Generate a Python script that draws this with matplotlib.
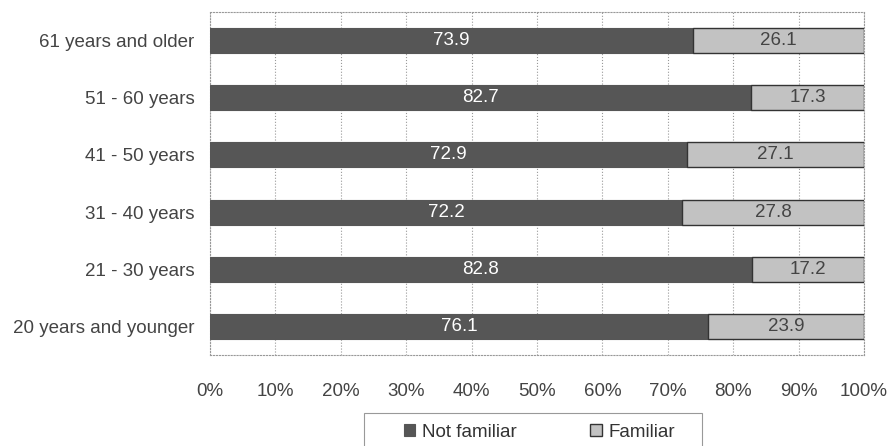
import matplotlib.pyplot as plt
from matplotlib.patches import Rectangle
import numpy as np

# Familiarity by age group (percent)
groups = ["20 years and younger", "21 - 30 years", "31 - 40 years",
          "41 - 50 years", "51 - 60 years", "61 years and older"]
not_familiar = [76.1, 82.8, 72.2, 72.9, 82.7, 73.9]
familiar = [23.9, 17.2, 27.8, 27.1, 17.3, 26.1]
ticks = [0, 10, 20, 30, 40, 50, 60, 70, 80, 90, 100]

plt.rcParams['font.family'] = ['Liberation Sans', 'DejaVu Sans']

W, H = 890, 446
fig = plt.figure(figsize=(W / 100, H / 100), dpi=100)
ax = fig.add_axes([210 / W, 1 - 355 / H, 654 / W, 343 / H])

y = np.arange(len(groups))
dark, light = '#565656', '#c2c2c2'
b1 = ax.barh(y, not_familiar, height=0.44, color=dark, edgecolor=dark, linewidth=0.8,
             label='Not familiar', zorder=3)
b2 = ax.barh(y, familiar, left=not_familiar, height=0.44, color=light,
             edgecolor='#333333', linewidth=1.0, label='Familiar', zorder=3)

for i in range(len(groups)):
    ax.text(not_familiar[i] / 2, y[i], f"{not_familiar[i]:.1f}", color='white',
            ha='center', va='center', fontsize=13.5, zorder=4)
    ax.text(not_familiar[i] + familiar[i] / 2, y[i], f"{familiar[i]:.1f}", color='#444444',
            ha='center', va='center', fontsize=13.5, zorder=4)

ax.set_xlim(0, 100)
ax.set_ylim(-0.5, len(groups) - 0.5)
ax.set_xticks(ticks)
ax.set_xticklabels([f"{t}%" for t in ticks], fontsize=13.5, color='#444444')
ax.set_yticks(y)
ax.set_yticklabels(groups, fontsize=13.5, color='#444444')
ax.tick_params(length=0, pad=20, axis='x')
ax.tick_params(length=0, pad=11, axis='y')
ax.grid(axis='x', linestyle=':', color='#999999', linewidth=0.8, zorder=0)
for s in ax.spines.values():
    s.set_linestyle(':')
    s.set_color('#999999')
    s.set_linewidth(0.8)

# legend box drawn separately so it can be wider than its entries
fig.patches.append(Rectangle((364 / W, -0.05), 338 / W, 1 - 413 / H + 0.05,
                             transform=fig.transFigure, facecolor='white',
                             edgecolor='#999999', linewidth=0.8))
leg = fig.legend(handles=[b1, b2], loc='upper left', bbox_to_anchor=(398 / W, 1 - 418 / H),
                 borderaxespad=0, ncol=2, frameon=False, fontsize=13.5, handlelength=0.6,
                 handleheight=0.6, handletextpad=0.4, columnspacing=3.9, borderpad=0.3)
for t in leg.get_texts():
    t.set_color('#333333')

plt.savefig("out.png", dpi=100)
